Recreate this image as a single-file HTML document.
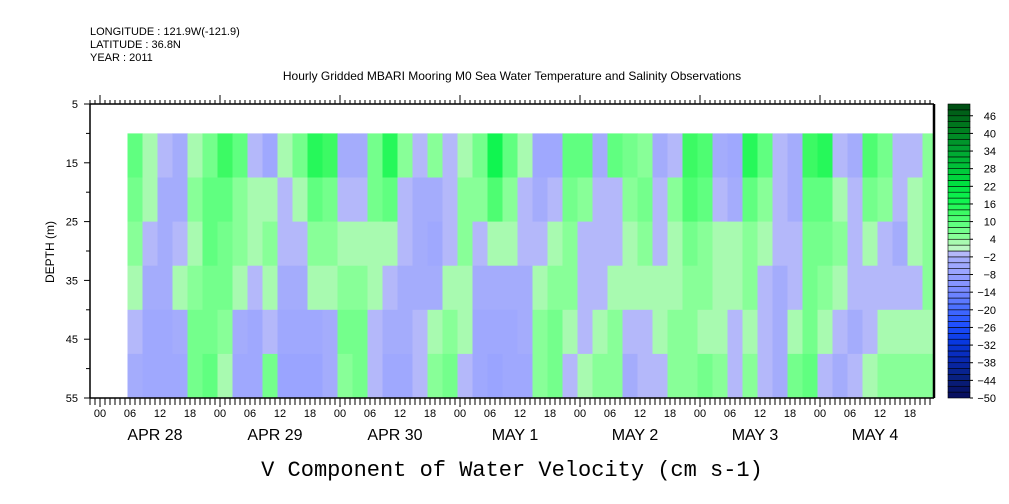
<!DOCTYPE html>
<html><head><meta charset="utf-8"><style>
body{margin:0;background:#fff;}
svg{display:block;font-family:"Liberation Sans",sans-serif;}
</style></head><body>
<svg id="chart" width="1009" height="504" viewBox="0 0 1009 504">
<g font-size="11" fill="#000">
<text x="90" y="35">LONGITUDE : 121.9W(-121.9)</text>
<text x="90" y="48">LATITUDE : 36.8N</text>
<text x="90" y="61">YEAR : 2011</text>
</g>
<text x="512" y="80" text-anchor="middle" font-size="12">Hourly Gridded MBARI Mooring M0 Sea Water Temperature and Salinity Observations</text>
<g id="cells"></g>
<g id="axes"></g>
<g id="cbar"></g>
<text x="54" y="252" transform="rotate(-90 54 252)" text-anchor="middle" font-size="12">DEPTH (m)</text>
<text x="512" y="476" text-anchor="middle" font-family="Liberation Mono, monospace" font-size="22">V Component of Water Velocity (cm s-1)</text>
</svg>
<script>
// start hour of each 3-hour column (hours since APR 28 00:00)
const colStartHours = [5.5,8.5,11.5,14.5,17.5,20.5,23.5,26.5,29.5,32.5,35.5,38.5,41.5,44.5,47.5,50.5,53.5,56.5,59.5,62.5,65.5,68.5,71.5,74.5,77.5,80.5,83.5,86.5,89.5,92.5,95.5,98.5,101.5,104.5,107.5,110.5,113.5,116.5,119.5,122.5,125.5,128.5,131.5,134.5,137.5,140.5,143.5,146.5,149.5,152.5,155.5,158.5,161.5,164.5,167.5];
const depthBands = [10,17.5,25,32.5,40,47.5,55];
const velocity = [
[8,6,4,2,-2,-4],[3,2,-2,-4,-6,-6],[-2,-4,-4,-4,-6,-6],[-4,-4,-2,2,-4,-6],[3,4,2,4,6,6],
[6,8,8,6,6,8],[12,8,6,6,4,2],[8,4,4,2,-4,-6],[-2,2,2,-2,-6,-6],[-6,2,4,2,-2,6],
[2,-2,-2,-4,-6,-8],[6,2,-2,-4,-6,-8],[14,8,4,2,-6,-8],[12,6,4,2,-4,-4],[-4,-2,2,4,6,4],
[-4,-2,2,4,6,6],[6,6,2,2,-2,-2],[14,8,2,-2,-4,-6],[4,-2,-2,-4,-4,-6],[-2,-4,-4,-4,-2,-2],
[4,-4,-6,-4,2,4],[-2,-2,-2,2,4,6],[2,4,4,2,2,-2],[6,4,-2,-4,-6,-6],[16,10,2,-4,-6,-8],
[8,4,2,-4,-6,-6],[2,-2,-2,-4,-4,-6],[-6,-4,-2,2,4,4],[-6,-2,2,4,6,6],[8,6,4,4,2,-2],
[8,4,-2,-2,-2,2],[-4,-2,-2,-2,2,4],[8,-2,-2,2,4,4],[6,4,2,2,-2,-4],[4,6,4,2,-2,-2],
[-4,-2,-2,2,2,-2],[-2,4,2,2,4,4],[12,10,6,4,4,4],[10,8,4,4,2,6],[-4,-2,2,2,2,4],
[-6,-4,2,2,-2,-2],[14,8,4,4,2,4],[8,4,2,-2,-2,-2],[-2,-2,-2,-4,-4,-4],[-4,-4,-2,-2,2,6],
[12,8,6,6,6,8],[14,8,6,4,2,-2],[-2,2,4,2,-2,-4],[-4,-2,-2,-2,-4,-2],[10,6,2,-2,-2,2],
[6,4,-2,-2,2,4],[-2,-2,-4,-2,2,4],[-2,2,2,-2,2,4],[4,4,4,4,2,4]
];
const yTicks = [5,15,25,35,45,55];
const hourLabels = ["00","06","12","18"];
const dayLabels = ["APR 28","APR 29","APR 30","MAY  1","MAY  2","MAY  3","MAY  4"];
const cbarLabels = [46,40,34,28,22,16,10,4,-2,-8,-14,-20,-26,-32,-38,-44,-50];

const NS="http://www.w3.org/2000/svg";
const X0=90,X1=934,Y0=104,Y1=398,PXH=5,HMAX=166.8;
const xs=h=>X0+(h+2)*PXH;
const ys=d=>Y0+(d-5)*(Y1-Y0)/50;
function mk(tag,attrs,parent){const e=document.createElementNS(NS,tag);for(const k in attrs)e.setAttribute(k,attrs[k]);parent.appendChild(e);return e;}
const stops=[[-50,[8,16,96]],[-44,[8,32,128]],[-38,[8,40,176]],[-32,[8,56,224]],[-26,[32,80,255]],[-20,[76,112,255]],[-14,[124,140,255]],[-8,[154,164,255]],[-4,[164,172,252]],[-2,[180,184,250]],[0,[188,248,196]],[2,[168,250,176]],[4,[136,255,152]],[8,[96,255,128]],[12,[60,250,100]],[16,[16,245,80]],[22,[0,224,64]],[28,[0,192,56]],[34,[0,160,48]],[40,[0,128,32]],[46,[0,96,24]],[50,[0,64,16]]];
function col(v){
  const lv=Math.floor(v/2)*2;
  let a=stops[0],b=stops[stops.length-1];
  for(let i=0;i<stops.length-1;i++){if(lv>=stops[i][0]&&lv<=stops[i+1][0]){a=stops[i];b=stops[i+1];break;}}
  const t=b[0]===a[0]?0:(lv-a[0])/(b[0]-a[0]);
  const c=a[1].map((x,i)=>Math.round(x+(b[1][i]-x)*t));
  return `rgb(${c[0]},${c[1]},${c[2]})`;
}
const cells=document.getElementById('cells');
velocity.forEach((column,i)=>{
  const h0=colStartHours[i];
  const h1=Math.min(i+1<colStartHours.length?colStartHours[i+1]:HMAX,HMAX);
  column.forEach((v,j)=>{
    const r=mk('rect',{x:xs(h0),y:ys(depthBands[j]),width:Math.max(0,xs(h1)-xs(h0)+0.5),height:ys(depthBands[j+1])-ys(depthBands[j])+0.5,fill:col(v)},cells);
    
    
  });
});
const ax=document.getElementById('axes');
mk('line',{x1:X0,y1:Y0,x2:X0,y2:Y1,stroke:'#000','stroke-width':1.5},ax);
mk('line',{x1:X0,y1:Y0,x2:X1,y2:Y0,stroke:'#000','stroke-width':1.5},ax);
mk('line',{x1:X0,y1:Y1,x2:X1,y2:Y1,stroke:'#000','stroke-width':1.5},ax);
mk('line',{x1:X1,y1:Y0,x2:X1,y2:Y1,stroke:'#000','stroke-width':2.5},ax);
for(let d=5;d<=55;d+=5){mk('line',{x1:X0-(d%10===5?6:4),y1:ys(d),x2:X0,y2:ys(d),stroke:'#000'},ax);}
yTicks.forEach(d=>{const t=mk('text',{x:X0-12,y:ys(d)+4,'text-anchor':'end','font-size':11},ax);t.textContent=d;
  });
for(let h=-2;h<=166;h++){
  const x=xs(h);if(x>X1-1)break;const major=((h%24)+24)%24===0;
  mk('line',{x1:x,y1:Y0,x2:x,y2:Y0-(major?9:4),stroke:'#000'},ax);
  mk('line',{x1:x,y1:Y1,x2:x,y2:Y1+(major?9:7),stroke:'#000'},ax);
  if(h>=0&&h%6===0){const t=mk('text',{x:x,y:417,'text-anchor':'middle','font-size':11},ax);t.textContent=hourLabels[(h%24)/6];
    }
}
dayLabels.forEach((s,i)=>{const t=mk('text',{x:xs(i*24+12)-5,y:440,'text-anchor':'middle','font-size':16,'xml:space':'preserve'},ax);t.textContent=s;
  });
const cb=document.getElementById('cbar');
const CX=948,CW=22,step=(Y1-Y0)/50;
for(let k=0;k<50;k++){const v=-50+2*k;
  const r=mk('rect',{x:CX,y:Y1-(k+1)*step,width:CW,height:step,fill:col(v),stroke:'#000','stroke-width':0.6},cb);
  }
cbarLabels.forEach(v=>{const y=Y1-(v+50)/2*step;
  mk('line',{x1:CX+CW,y1:y,x2:CX+CW+3,y2:y,stroke:'#000'},cb);
  const t=mk('text',{x:996,y:y+4,'text-anchor':'end','font-size':11},cb);t.textContent=v<0?'\u2212'+(-v):v;
  });
</script>
</body></html>
